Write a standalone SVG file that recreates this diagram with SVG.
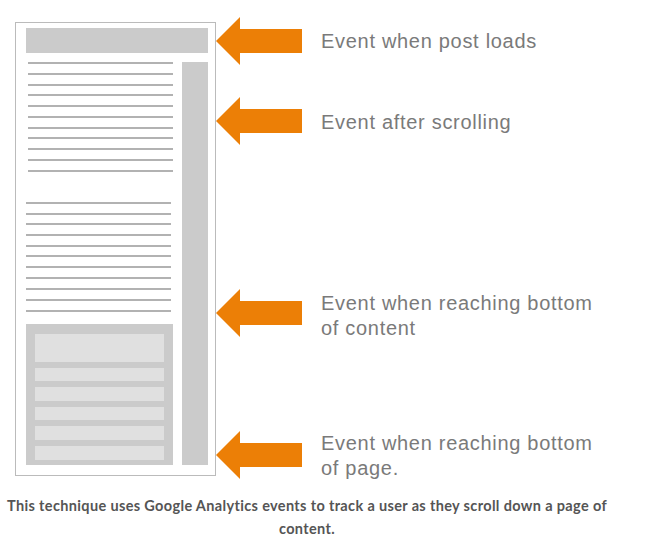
<svg xmlns="http://www.w3.org/2000/svg" width="669" height="549" viewBox="0 0 669 549">
<defs><style>
.g{fill:#cbcbcb}.l{fill:#e0e0e0}.ln{stroke:#999;stroke-width:1.5}.ar{fill:#ec7f06}
.t{font-family:"Liberation Sans",Arial,sans-serif;font-size:20px;fill:#7a7a7a;letter-spacing:0.7px}
.c{font-family:Lato,"Liberation Sans",sans-serif;font-weight:bold;font-size:14.5px;fill:#555;text-anchor:middle;letter-spacing:0.35px}
</style>
<polygon id="arw" class="ar" points="0,0 24,-24 24,-12 86,-12 86,12 24,12 24,24"/></defs>
<g id="page">
<rect x="15.5" y="22.5" width="200" height="453" fill="#fff" stroke="#bbb" stroke-width="1"/>
<rect class="g" x="26" y="28" width="182" height="25"/>
<rect class="g" x="182" y="62" width="26" height="403"/>
<g class="ln">
<path d="M28 63H173M28 74H173M28 85H173M28 95H173M28 106H173M28 117H173M28 128H173M28 138H173M28 149H173M28 160H173M28 171H173"/>
<path d="M26 203H171M26 214H171M26 224H171M26 235H171M26 246H171M26 256H171M26 267H171M26 278H171M26 289H171M26 300H171M26 311H171"/>
</g>
<rect class="g" x="26" y="324" width="147" height="141"/>
<rect class="l" x="35" y="334" width="129" height="28"/>
<rect class="l" x="35" y="368" width="129" height="13"/>
<rect class="l" x="35" y="387" width="129" height="14"/>
<rect class="l" x="35" y="407" width="129" height="13"/>
<rect class="l" x="35" y="426" width="129" height="14"/>
<rect class="l" x="35" y="446" width="129" height="14"/>
</g>
<g id="connectors">
<use href="#arw" x="216" y="41"/>
<use href="#arw" x="216" y="121"/>
<use href="#arw" x="216" y="313"/>
<use href="#arw" x="216" y="455"/>
</g>
<g id="labels">
<text class="t" x="321" y="48">Event when post loads</text>
<text class="t" x="321" y="129">Event after scrolling</text>
<text class="t" x="321" y="310">Event when reaching bottom</text>
<text class="t" x="321" y="335">of content</text>
<text class="t" x="321" y="450">Event when reaching bottom</text>
<text class="t" x="321" y="475">of page.</text>
</g>
<g id="caption">
<text class="c" x="307" y="511">This technique uses Google Analytics events to track a user as they scroll down a page of</text>
<text class="c" x="307" y="534">content.</text>
</g>
</svg>
